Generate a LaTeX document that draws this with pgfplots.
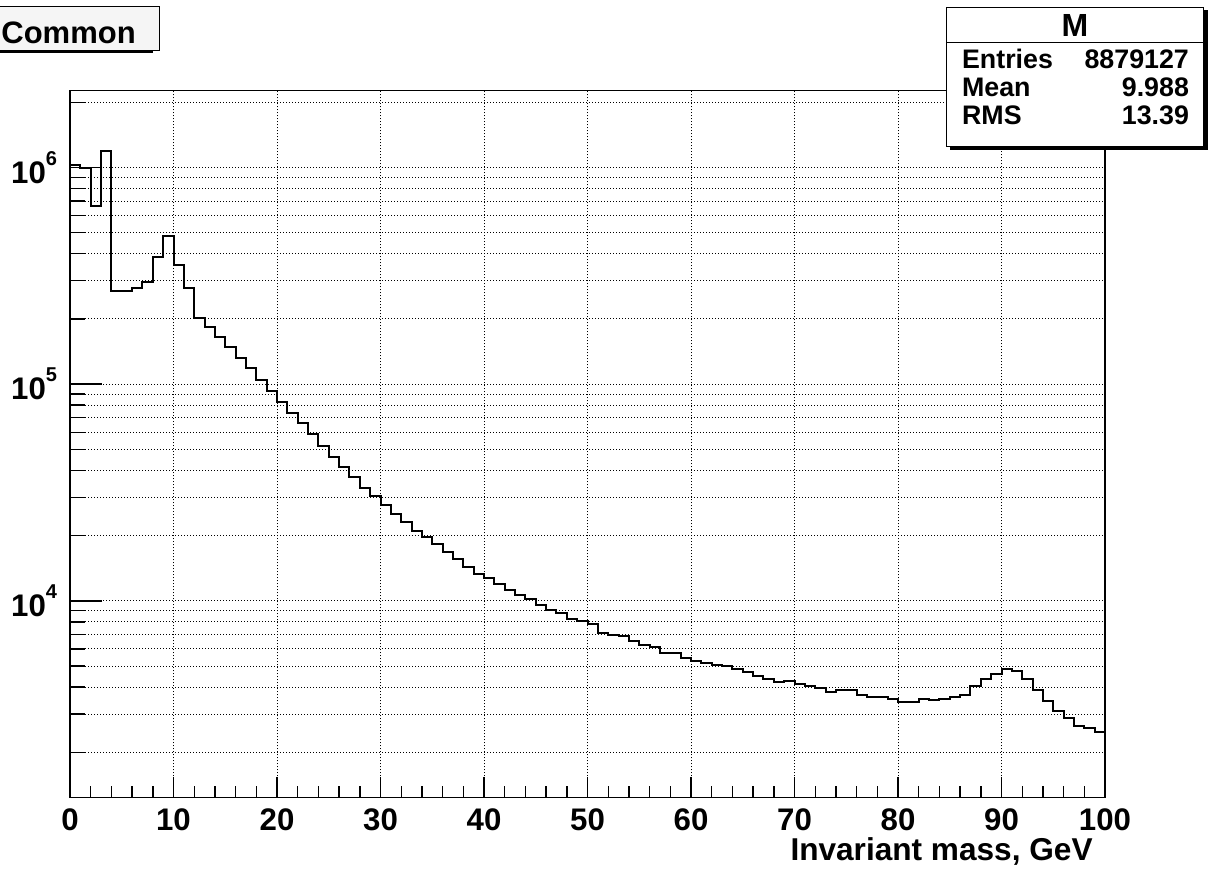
\documentclass[border=0pt]{standalone}
\usepackage{fontspec}
\setmainfont{Liberation Sans}
\usepackage{pgfplots}
\usepackage{pgfplotstable}
\pgfplotsset{compat=1.18}

% invariant mass histogram, 1 GeV bins (value of bin starting at x)
\pgfplotstableread{
x y
0 1.025e6
1 9.9e5
2 6.62e5
3 1.19e6
4 2.69e5
5 2.69e5
6 2.79e5
7 2.97e5
8 3.86e5
9 4.83e5
10 3.56e5
11 2.77e5
12 2.02e5
13 1.83e5
14 1.65e5
15 1.49e5
16 1.32e5
17 1.19e5
18 1.05e5
19 9.33e4
20 8.24e4
21 7.35e4
22 6.60e4
23 5.87e4
24 5.21e4
25 4.60e4
26 4.14e4
27 3.72e4
28 3.32e4
29 3.04e4
30 2.78e4
31 2.52e4
32 2.31e4
33 2.11e4
34 1.97e4
35 1.82e4
36 1.68e4
37 1.56e4
38 1.44e4
39 1.33e4
40 1.28e4
41 1.20e4
42 1.126e4
43 1.068e4
44 1.016e4
45 9610
46 9110
47 8820
48 8250
49 8070
50 7850
51 7140
52 6960
53 6880
54 6490
55 6240
56 6130
57 5750
58 5750
59 5430
60 5280
61 5150
62 5060
63 5010
64 4830
65 4670
66 4500
67 4350
68 4210
69 4270
70 4140
71 4050
72 3950
73 3800
74 3870
75 3870
76 3670
77 3600
78 3600
79 3540
80 3420
81 3420
82 3520
83 3480
84 3540
85 3600
86 3670
87 4050
88 4350
89 4590
90 4820
91 4730
92 4350
93 3870
94 3450
95 3100
96 2880
97 2640
98 2590
99 2470
100 2470
}\histdata

\newcommand\tlab[1]{10\raisebox{9pt}{\fontsize{10}{11}\selectfont #1}}

\begin{document}
\begin{tikzpicture}[x=0.5pt,y=-0.5pt]
\useasboundingbox (0,0) rectangle (1208,872);
\begin{axis}[
  at={(35pt,-398.65pt)}, anchor=south west,
  scale only axis, width=517.5pt, height=353.3pt,
  xmin=0, xmax=100,
  ymode=log, ymin=1239, ymax=2.262e6,
  axis line style={black, line width=0.75pt},
  xtick={0,10,...,100}, minor x tick num=4,
  ytick={1e4,1e5,1e6}, yticklabels={\tlab{4},\tlab{5},\tlab{6}},
  minor ytick={2e3,3e3,4e3,5e3,6e3,7e3,8e3,9e3,
               2e4,3e4,4e4,5e4,6e4,7e4,8e4,9e4,
               2e5,3e5,4e5,5e5,6e5,7e5,8e5,9e5,2e6},
  tick align=inside, xtick pos=bottom, ytick pos=left,
  xtick style={black, line width=0.7pt,
    /pgfplots/major tick length=10pt, /pgfplots/minor tick length=5.7pt},
  ytick style={black, line width=0.7pt,
    /pgfplots/major tick length=15.8pt, /pgfplots/minor tick length=7.5pt},
  xmajorgrids, ymajorgrids, yminorgrids,
  major grid style={black, line width=0.5pt, dash pattern=on 0.5pt off 1pt},
  minor grid style={black, line width=0.5pt, dash pattern=on 0.5pt off 1pt},
  /pgf/number format/assume math mode=true,
  ticklabel style={font=\fontsize{15.6}{18}\selectfont\bfseries},
  xticklabel style={anchor=north, inner sep=0pt, yshift=-5.3pt},
  yticklabel style={anchor=east, inner sep=0pt, xshift=-6.3pt},
  xlabel={Invariant mass, GeV},
  xlabel style={at={(rel axis cs:1,0)}, anchor=base east, inner sep=0pt,
    xshift=-6pt, yshift=-31.35pt, font=\fontsize{15.8}{18}\selectfont\bfseries},
]
  \addplot[const plot mark left, black, line width=1pt] table[x=x,y=y]{\histdata};
\end{axis}

% title box
\fill[black] (-10,48.7) rectangle (153,53);
\draw[line width=0.75pt, fill=gray!8] (-10,6.7) rectangle (159.3,50.7);
\node[anchor=base west, inner sep=0pt, font=\fontsize{15.5}{18}\selectfont\bfseries]
  at (1,43.3) {Common};

% stats box
\fill[black] (950,10.5) rectangle (1208,150);
\draw[line width=0.75pt, fill=white] (946.7,7.3) rectangle (1203.3,146.7);
\draw[line width=0.75pt] (946.7,42.3) -- (1203.3,42.3);
\node[anchor=base, inner sep=0pt, font=\fontsize{16}{19}\selectfont\bfseries]
  at (1075,36.7) {M};
\begin{scope}[every node/.style={inner sep=0pt, font=\fontsize{13.4}{15}\selectfont\bfseries}]
  \node[anchor=base west] at (961.7,68.3) {Entries};
  \node[anchor=base east] at (1189.3,68.3) {8879127};
  \node[anchor=base west] at (961.7,96.7) {Mean};
  \node[anchor=base east] at (1189.3,96.7) {9.988};
  \node[anchor=base west] at (961.7,125) {RMS};
  \node[anchor=base east] at (1189.3,125) {13.39};
\end{scope}
\end{tikzpicture}
\end{document}
